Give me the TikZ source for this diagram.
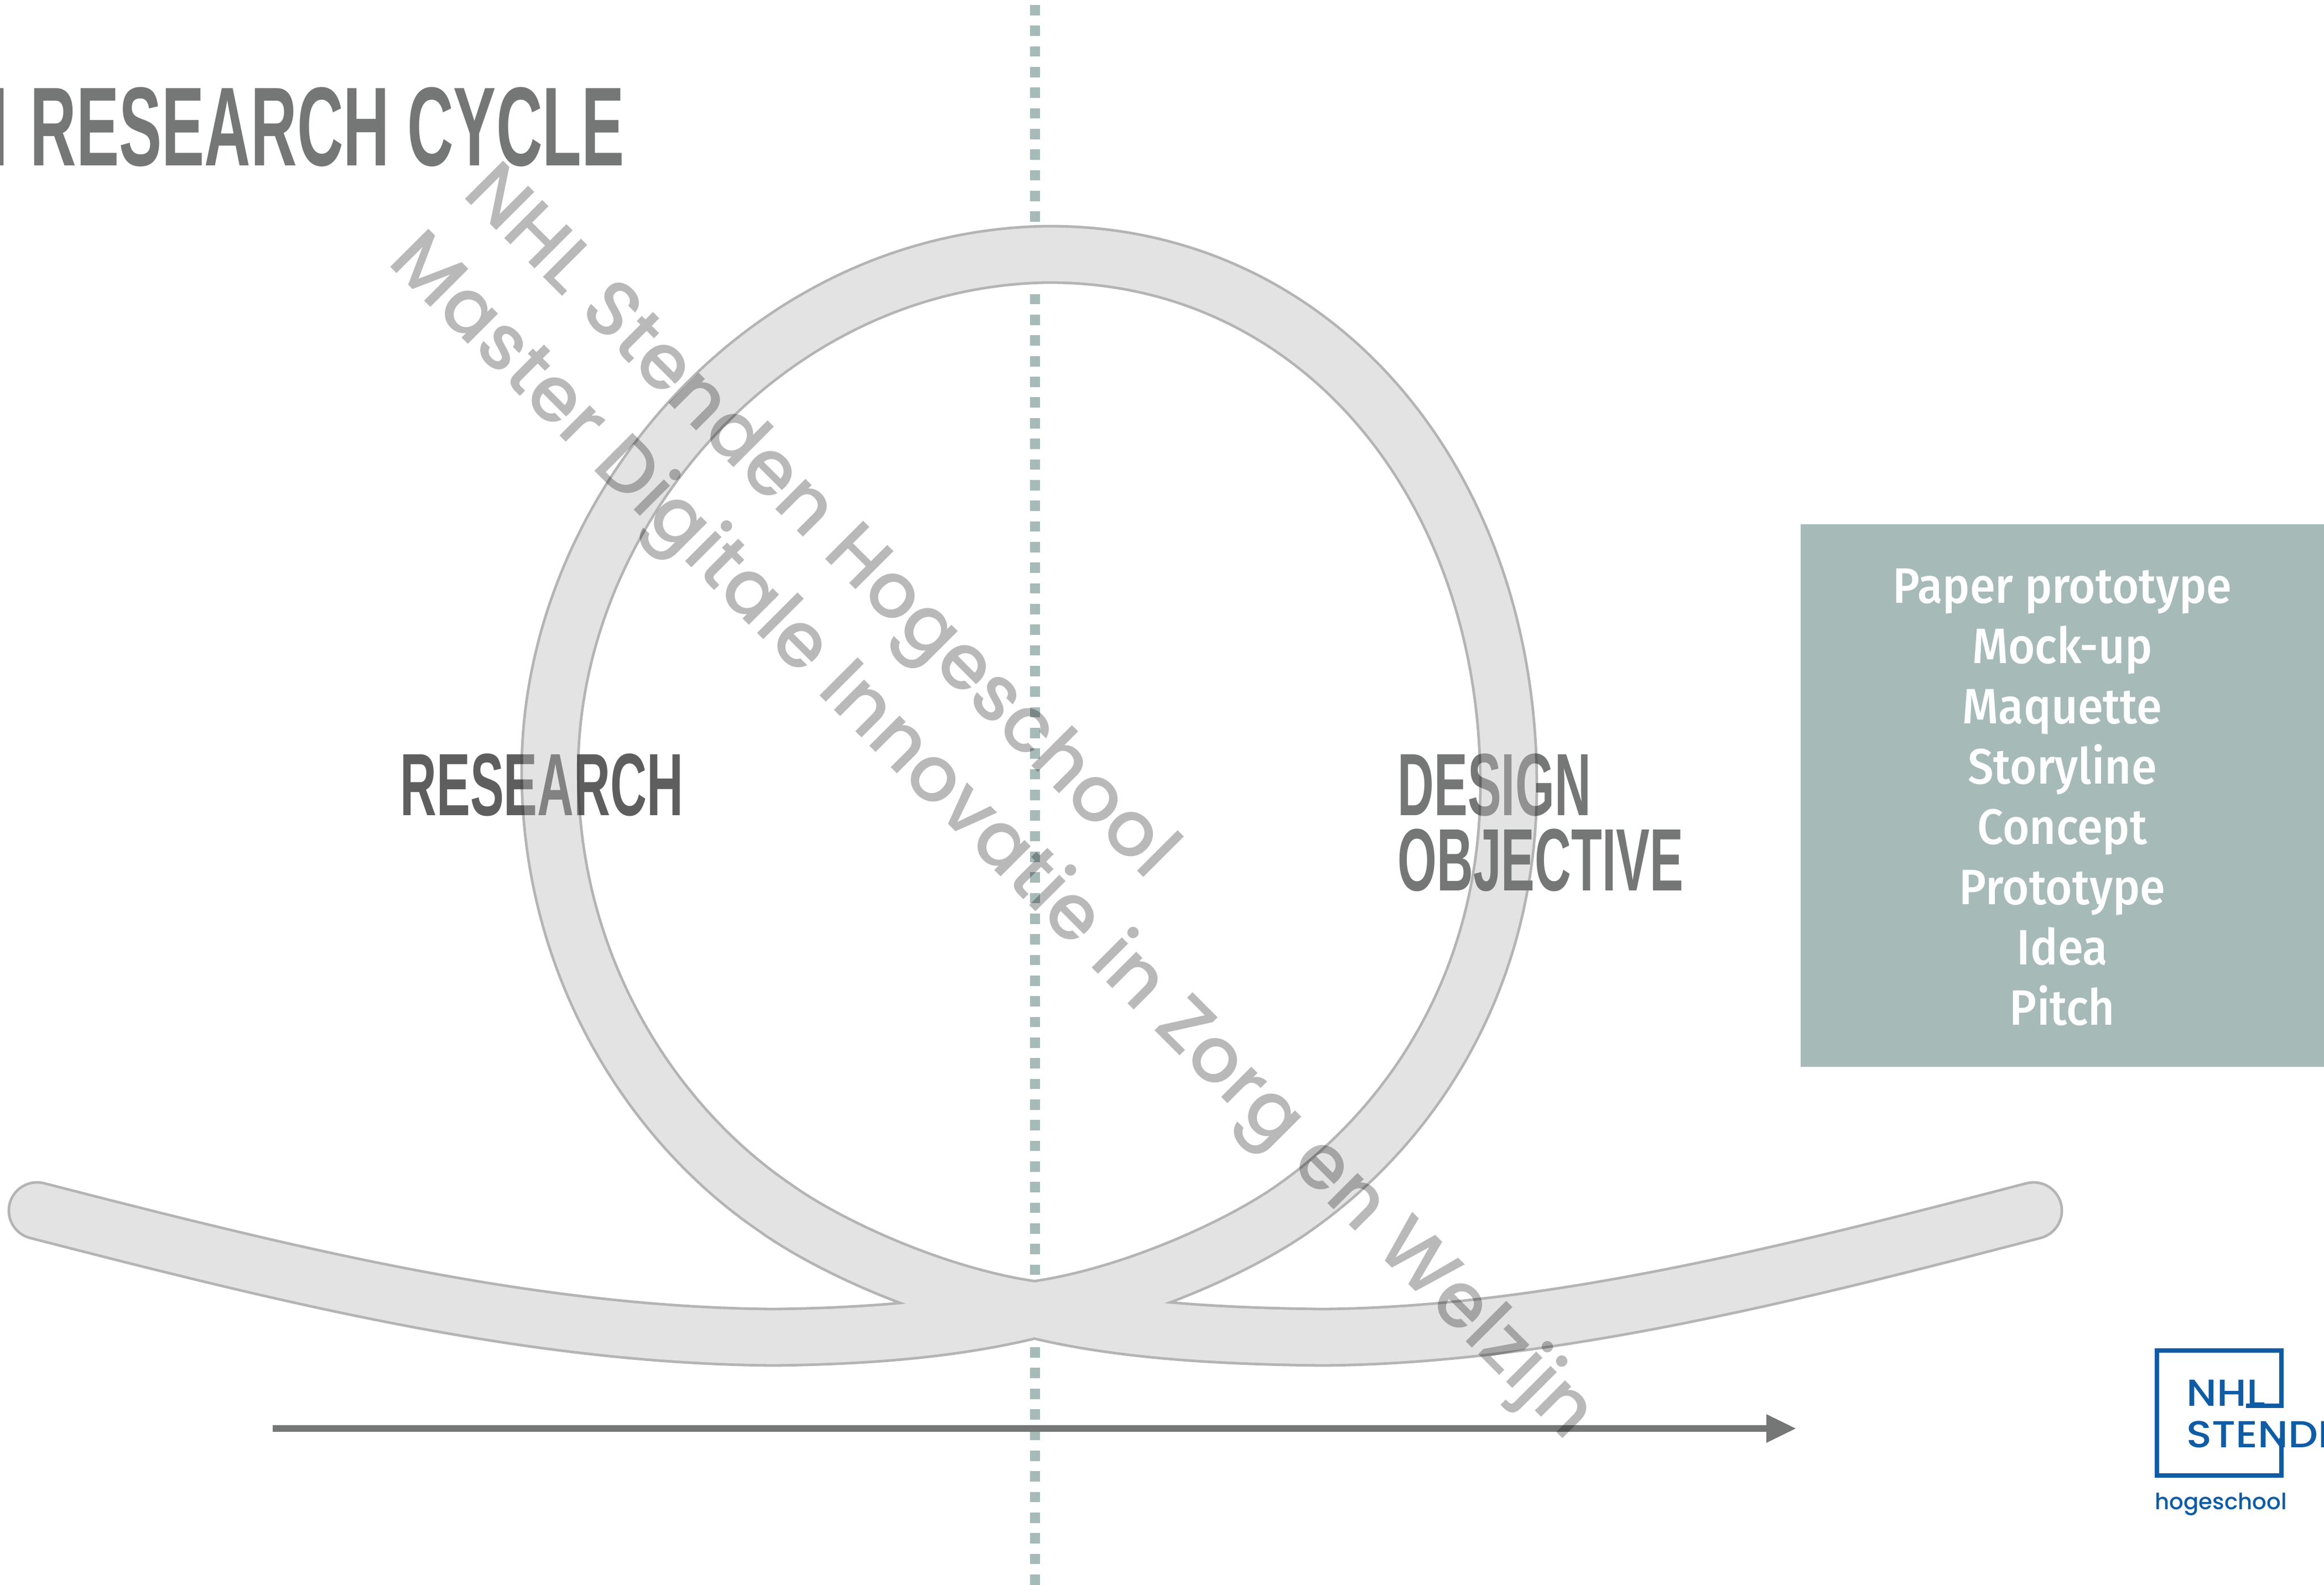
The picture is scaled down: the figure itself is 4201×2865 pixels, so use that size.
\documentclass[tikz,border=0pt]{standalone}
\usepackage{fontspec}
\usetikzlibrary{arrows.meta}
\setmainfont{Liberation Sans}
\newfontfamily\dinhead[FakeStretch=0.57]{Liberation Sans Bold}
\newfontfamily\dinbody[FakeStretch=0.923]{Fira Sans Medium}
\newfontfamily\markfont{Poppins Medium}
\newfontfamily\logofont{Poppins Medium}
\newfontfamily\logowide[FakeStretch=1.12]{Poppins Medium}
\definecolor{headgrey}{HTML}{757776}
\definecolor{darkgrey}{HTML}{5E5E5E}
\definecolor{sage}{HTML}{A6BAB8}
\definecolor{ribbonfill}{HTML}{B9B9B9}
\definecolor{ribbonedge}{HTML}{444444}
\definecolor{logoblue}{HTML}{0F5CA5}
\def\ribbon{(67,2189) .. controls (500,2300) and (950,2415) .. (1400,2418)
 .. controls (1560,2416) and (1720,2405) .. (1870,2368)
 .. controls (2040,2345) and (2245,2253) .. (2345,2180)
 .. controls (2555,2030) and (2727,1770) .. (2727,1420)
 .. controls (2727,870) and (2375,455) .. (1889,460)
 .. controls (1380,470) and (994,930) .. (994,1393)
 .. controls (994,1760) and (1190,2040) .. (1400,2183)
 .. controls (1500,2255) and (1700,2345) .. (1870,2368)
 .. controls (2020,2405) and (2200,2416) .. (2390,2418)
 .. controls (2800,2415) and (3250,2300) .. (3676,2189)}
\tikzset{
 x=0.5pt,y=-0.5pt,
 headtext/.style={inner sep=0pt,font=\dinhead\fontsize{80}{80}\selectfont,text=headgrey,anchor=base west,align=left},
 marktext/.style={inner sep=0pt,rotate=-45,text=black,text opacity=0.275,font=\markfont\fontsize{70}{70}\selectfont},
 logoword/.style={inner sep=0pt,text=logoblue,anchor=base west,font=\logowide\fontsize{34}{34}\selectfont},
}
\begin{document}
\begin{tikzpicture}
\useasboundingbox (0,0) rectangle (4201,2865);
\clip (0,0) rectangle (4201,2865);
\fill[white] (0,0) rectangle (4201,2865);
\coordinate (axistop) at (1871,-28.33);
\coordinate (axisbot) at (1871,2900);
\draw[sage,line width=9.35pt,dash pattern=on 9.35pt off 9.32pt] (axistop) -- (axisbot);
\draw[white,line width=53.4pt,line cap=round,line join=round] \ribbon;
\node[headtext,text=darkgrey] (research) at (723,1474) {RESEARCH};
\node[headtext] (design) at (2526,1474) {DESIGN};
\begin{scope}[transparency group,opacity=0.4]
\draw[ribbonedge,line width=53.4pt,line cap=round,line join=round] \ribbon;
\draw[ribbonfill,line width=48.6pt,line cap=round,line join=round] \ribbon;
\end{scope}
\node[headtext] (objective) at (2526,1610) {OBJECTIVE};
\coordinate (arrowstart) at (493,2583);
\coordinate (arrowend) at (3247,2583);
\draw[headgrey,line width=6pt,-{Triangle[length=27pt,width=24pt]}] (arrowstart) -- (arrowend);
\node[headtext,font=\dinhead\fontsize{101.5}{101.5}\selectfont,anchor=base east] (title) at (1129,299) {I\hspace{4pt} RESEARCH CYCLE};
\node[fill=sage,minimum width=473pt,minimum height=490.5pt,inner sep=0pt] (panel) at (3728,1438.5) {};
\node[inner sep=0pt,text=white,align=center,font=\dinbody\fontsize{45}{54.5}\selectfont] (items) at (3728,1441.5)
 {Paper prototype\\Mock-up\\Maquette\\Storyline\\Concept\\Prototype\\Idea\\Pitch};
% logo
\coordinate (logoA) at (4060,2542);
\coordinate (logoB) at (4124,2542);
\coordinate (logoC) at (4124,2442);
\coordinate (logoD) at (3899,2442);
\coordinate (logoE) at (3899,2668);
\coordinate (logoF) at (4124,2668);
\coordinate (logoG) at (4124,2600);
\draw[logoblue,line width=4.2pt,line cap=butt,line join=miter] (logoA) -- (logoB) -- (logoC) -- (logoD) -- (logoE) -- (logoF) -- (logoG);
\node[logoword] (nhl) at (3952,2542) {NHL};
\node[logoword] (stenden) at (3952,2617) {STENDEN};
\node[logoword,font=\logofont\fontsize{20.2}{22}\selectfont] (hoge) at (3895,2729) {hogeschool};
% watermark
\node[marktext] (mark1) at (1477,950) {NHL Stenden Hogeschool};
\node[marktext] (mark2) at (1790,1517) {Master Digitale Innovatie in Zorg en Welzijn};
\end{tikzpicture}
\end{document}
